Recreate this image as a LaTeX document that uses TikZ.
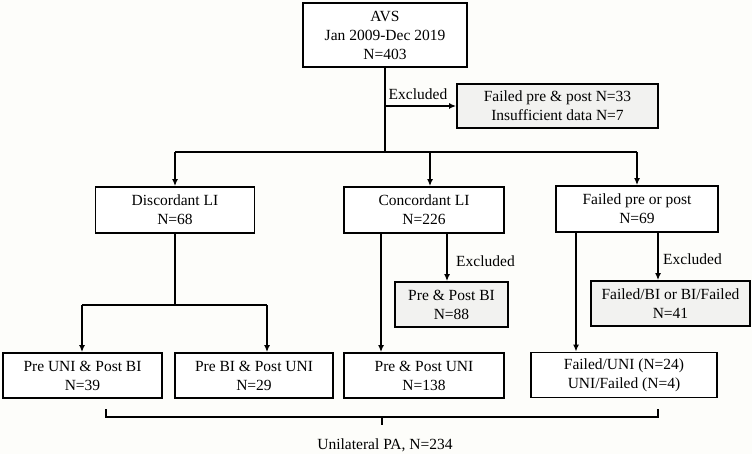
\documentclass[tikz,border=0pt]{standalone}
\usepackage{fontspec}
\setmainfont{Liberation Serif}
\usetikzlibrary{arrows.meta}
\definecolor{bgc}{RGB}{253,253,250}
\definecolor{greyfill}{RGB}{242,242,240}
\begin{document}
\begin{tikzpicture}[x=1pt,y=-1pt,
  every node/.style={font=\fontsize{15.5}{19}\selectfont},
  box/.style={draw=black, line width=1.8pt, fill=white, rectangle, inner sep=0pt, align=center},
  greybox/.style={box, fill=greyfill},
  conn/.style={draw=black, line width=1.7pt},
  arr/.style={conn, -{Latex[length=7pt,width=6pt]}},
  lbl/.style={inner sep=0pt, anchor=west}
]
\fill[bgc] (0,0) rectangle (752,454);
\useasboundingbox (0,0) rectangle (752,454);

% nodes
\node[box, minimum width=164pt, minimum height=64pt] (avs) at (385,35) {AVS\\Jan 2009-Dec 2019\\N=403};
\node[greybox, minimum width=201pt, minimum height=44pt] (exc1) at (557.5,106) {Failed pre \& post N=33\\Insufficient data N=7};
\node[box, minimum width=159pt, minimum height=46pt] (disc) at (175,210) {Discordant LI\\N=68};
\node[box, minimum width=160pt, minimum height=46pt] (conc) at (424,210) {Concordant LI\\N=226};
\node[box, minimum width=162pt, minimum height=46pt] (failpp) at (637,209) {Failed pre or post\\N=69};
\node[greybox, minimum width=113pt, minimum height=45pt] (exc2) at (451.5,304.5) {Pre \& Post BI\\N=88};
\node[greybox, minimum width=159pt, minimum height=45pt] (exc3) at (670.5,303.5) {Failed/BI or BI/Failed\\N=41};
\node[box, minimum width=159pt, minimum height=45pt] (b1) at (82.5,375.5) {Pre UNI \& Post BI\\N=39};
\node[box, minimum width=158pt, minimum height=45pt] (b2) at (254,375.5) {Pre BI \& Post UNI\\N=29};
\node[box, minimum width=160pt, minimum height=45pt] (b3) at (424,375.5) {Pre \& Post UNI\\N=138};
\node[box, minimum width=186pt, minimum height=45pt] (b4) at (624,375) {Failed/UNI (N=24)\\UNI/Failed (N=4)};

% coordinates
\coordinate (br) at (385,152);
\coordinate (cin) at (430,152);
\coordinate (dsplit) at (175,305);
\coordinate (dl) at (82,305);
\coordinate (dr) at (267,305);
\coordinate (cuni) at (381,233);
\coordinate (cexc) at (447,233);
\coordinate (funi) at (576,232);
\coordinate (fexc) at (658,232);

% top
\draw[conn] (avs.south) -- (br);
\draw[arr] (avs.south |- exc1.west) -- (exc1.west);
\node[inner sep=0pt] (lx1) at (418,94) {Excluded};
\draw[conn] (disc.north |- br) -- (failpp.north |- br);
\draw[arr] (disc.north |- br) -- (disc.north);
\draw[arr] (cin) -- (cin |- conc.north);
\draw[arr] (failpp.north |- br) -- (failpp.north);

% discordant split
\draw[conn] (disc.south) -- (dsplit);
\draw[conn] (dl) -- (dr);
\draw[arr] (dl) -- (dl |- b1.north);
\draw[arr] (dr) -- (dr |- b2.north);

% concordant
\draw[arr] (cuni) -- (cuni |- b3.north);
\draw[arr] (cexc) -- (cexc |- exc2.north);
\node[lbl] (lx2) at (456,261) {Excluded};

% failed
\draw[arr] (funi) -- (funi |- b4.north);
\draw[arr] (fexc) -- (fexc |- exc3.north);
\node[lbl] (lx3) at (663,259) {Excluded};

% brace
\coordinate (bl) at (106,409);
\coordinate (brr) at (658,409);
\coordinate (bc) at (382,425);
\draw[conn, line width=1.5pt] (bl) -- (106,417) -- (658,417) -- (brr);
\draw[conn, line width=1.5pt] (382,417) -- (bc);
\node[inner sep=0pt] (tot) at (385,445) {Unilateral PA, N=234};
\end{tikzpicture}
\end{document}
